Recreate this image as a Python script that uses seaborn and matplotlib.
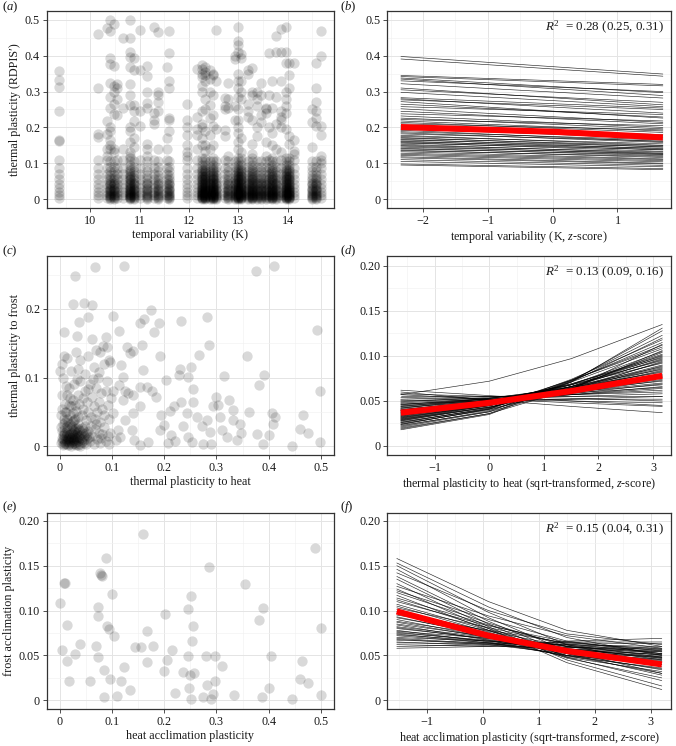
import numpy as np
import pandas as pd
import matplotlib
matplotlib.use("Agg")
import matplotlib.pyplot as plt
import seaborn as sns

sns.set_theme(style="white")
plt.rcParams["font.family"] = ["Liberation Serif", "DejaVu Serif"]
plt.rcParams["mathtext.fontset"] = "custom"
plt.rcParams["mathtext.rm"] = "Liberation Serif"
plt.rcParams["mathtext.it"] = "Liberation Serif:italic"

# ---------------- panel (a): scatter, columns of sites ----------------
a_x = [9.37, 10.15, 10.34, 10.39, 10.47, 10.53, 10.66, 10.81, 10.88, 11.0, 11.15, 11.28, 11.37,
       11.55, 11.6, 11.96, 12.16, 12.26, 12.33, 12.42, 12.48, 12.55, 12.72, 12.8, 12.93, 12.99,
       13.06, 13.2, 13.28, 13.38, 13.46, 13.56, 13.62, 13.68, 13.76, 13.87, 13.96, 14.03, 14.12,
       14.5, 14.57, 14.68]
a_density = "M M M D D M M V D M D M D M D M M V V D V D M D D V V D V D D D M V D M V V M D D M".split()
a_high = [
    "0.358 0.333 0.312 0.245 0.166 0.162", "0.462 0.31 0.182 0.172", "0.477 0.218 0.182 0.14 0.12",
    "0.5 0.47 0.395 0.378 0.325 0.285 0.255 0.2 0.19 0.165 0.15 0.14",
    "0.49 0.372 0.317 0.298 0.265 0.237 0.14 0.13", "0.32 0.31 0.28 0.235", "0.45 0.255 0.14",
    "0.5 0.45 0.41 0.397 0.37 0.32 0.29 0.262 0.2 0.19 0.16 0.13 0.12",
    "0.395 0.36 0.262 0.245 0.218 0.17 0.145", "0.473 0.36 0.245 0.205",
    "0.372 0.344 0.298 0.268 0.255 0.155 0.14 0.12", "0.48 0.24 0.22 0.21",
    "0.465 0.3 0.29 0.27 0.245 0.14", "0.37 0.17 0.14", "0.47 0.408 0.33 0.31 0.225 0.22 0.19",
    "0.265 0.22 0.2 0.18 0.15 0.13 0.12", "0.363 0.23 0.195 0.18 0.14",
    "0.375 0.362 0.35 0.34 0.316 0.3 0.245 0.21 0.2 0.17 0.15",
    "0.37 0.355 0.345 0.33 0.28 0.25 0.19 0.15 0.135", "0.36 0.335 0.3 0.262 0.225 0.18 0.14",
    "0.345 0.35 0.29 0.235 0.205 0.15", "0.472 0.33 0.195", "0.283 0.26 0.25 0.193 0.175",
    "0.325 0.28 0.255 0.12", "0.4 0.39 0.26 0.22",
    "0.48 0.44 0.43 0.41 0.35 0.33 0.31 0.285 0.25 0.22 0.2 0.185 0.16 0.14",
    "0.405 0.395 0.33 0.3 0.28 0.17 0.13", "0.36 0.35 0.265 0.245 0.23",
    "0.365 0.3 0.29 0.22 0.155 0.125", "0.3 0.28 0.26 0.2 0.175", "0.325 0.29 0.235 0.215",
    "0.255 0.25 0.24 0.16 0.12", "0.407 0.29 0.2", "0.33 0.255 0.185 0.15",
    "0.455 0.41 0.285 0.21 0.14", "0.475 0.41 0.33 0.245 0.23 0.22 0.2 0.13",
    "0.48 0.41 0.38 0.3 0.28 0.26 0.24 0.195", "0.38 0.345 0.31 0.175 0.155",
    "0.38 0.165 0.135 0.125", "0.25 0.215 0.145", "0.38 0.31 0.27 0.245 0.225 0.205",
    "0.47 0.4 0.205 0.18 0.12 0.1"]
a_low = {
    "V": "0 0.002 0.003 0.005 0.007 0.009 0.01 0.012 0.014 0.015 0.017 0.02 0.021 0.023 0.026 0.028 "
         "0.029 0.032 0.035 0.036 0.039 0.043 0.045 0.047 0.052 0.055 0.057 0.062 0.065 0.068 0.074 "
         "0.077 0.08 0.087 0.095 0.105 0.115",
    "D": "0 0.004 0.006 0.008 0.012 0.015 0.017 0.022 0.025 0.027 0.032 0.038 0.042 0.045 0.052 0.06 "
         "0.068 0.078 0.09 0.105",
    "M": "0.002 0.01 0.02 0.03 0.042 0.055 0.07 0.088 0.11",
}

# ---------------- panel (b): posterior lines ----------------
b_x = [-2.34, 1.70]
b_start = [0.398, 0.391, 0.345, 0.342, 0.338, 0.335, 0.330, 0.322, 0.310, 0.305, 0.298, 0.283, 0.280,
           0.277, 0.272, 0.265, 0.258, 0.252, 0.245, 0.238, 0.232, 0.226, 0.222, 0.218, 0.214, 0.210,
           0.206, 0.202, 0.198, 0.195, 0.192, 0.188, 0.185, 0.182, 0.178, 0.175, 0.172, 0.170, 0.167,
           0.165, 0.162, 0.160, 0.158, 0.156, 0.153, 0.150, 0.148, 0.145, 0.142, 0.140, 0.137, 0.135,
           0.132, 0.128, 0.125, 0.122, 0.118, 0.115, 0.110, 0.105, 0.098, 0.095]
b_end = [0.349, 0.343, 0.320, 0.316, 0.297, 0.289, 0.300, 0.282, 0.263, 0.270, 0.258, 0.254, 0.240,
         0.250, 0.226, 0.229, 0.236, 0.214, 0.210, 0.218, 0.200, 0.196, 0.205, 0.190, 0.186, 0.193,
         0.176, 0.180, 0.168, 0.172, 0.160, 0.165, 0.158, 0.162, 0.150, 0.154, 0.145, 0.149, 0.140,
         0.146, 0.137, 0.142, 0.133, 0.138, 0.128, 0.131, 0.125, 0.127, 0.121, 0.124, 0.116, 0.119,
         0.112, 0.110, 0.107, 0.104, 0.100, 0.098, 0.094, 0.090, 0.085, 0.082]
b_red_x = [-2.34, 0.0, 1.70]
b_red_y = [0.201, 0.188, 0.172]

# ---------------- panel (c): heat vs frost plasticity ----------------
c_pts = """
0.068 0.261; 0.124 0.263; 0.030 0.248; 0.376 0.256; 0.411 0.262; 0.025 0.207; 0.046 0.208; 0.063 0.206;
0.103 0.190; 0.038 0.181; 0.055 0.188; 0.175 0.199; 0.008 0.167; 0.033 0.160; 0.062 0.156; 0.088 0.159;
0.113 0.168; 0.154 0.180; 0.161 0.185; 0.180 0.167; 0.190 0.179; 0.232 0.183; 0.282 0.188; 0.286 0.148;
0.493 0.169; 0.358 0.131; 0.008 0.131; 0.014 0.128; 0.032 0.138; 0.055 0.132; 0.078 0.138; 0.084 0.146;
0.096 0.123; 0.117 0.118; 0.129 0.144; 0.134 0.136; 0.141 0.139; 0.157 0.148; 0.192 0.131; 0.266 0.133;
0.315 0.103; 0.391 0.104; 0.381 0.089; 0.499 0.081;
0.203 0.097; 0.230 0.112; 0.228 0.104; 0.246 0.101; 0.252 0.116; 0.256 0.083; 0.211 0.051; 0.218 0.058;
0.192 0.024; 0.208 0.005; 0.214 0.017; 0.221 0.008; 0.233 0.064; 0.236 0.029; 0.243 0.048; 0.253 0.006;
0.246 0.014; 0.255 0.065; 0.263 0.043; 0.272 0.029; 0.275 0.004; 0.283 0.038; 0.287 0.021; 0.290 0.003;
0.294 0.058; 0.299 0.072; 0.304 0.060; 0.307 0.043; 0.310 0.024; 0.320 0.014; 0.324 0.068; 0.331 0.053;
0.332 0.038; 0.339 0.009; 0.346 0.032; 0.348 0.019; 0.362 0.050; 0.377 0.018; 0.390 0.003; 0.401 0.016;
0.407 0.049; 0.409 0.033; 0.413 0.043; 0.445 0.001; 0.460 0.025; 0.465 0.046; 0.476 0.019; 0.499 0.006;
0.199 0.031; 0.195 0.046;
0.167 0.087; 0.176 0.080; 0.184 0.072; 0.160 0.111; 0.153 0.087; 0.154 0.058; 0.141 0.075; 0.130 0.077;
0.141 0.048; 0.138 0.024; 0.143 0.009; 0.154 0.002; 0.170 0.006; 0.125 0.038; 0.122 0.067; 0.125 0.080;
0.121 0.101; 0.113 0.089; 0.111 0.024; 0.108 0.009; 0.116 0.014; 0.097 0.019; 0.103 0.048; 0.103 0.080;
0.002 0.005; 0.004 0.012; 0.006 0.002; 0.008 0.020; 0.010 0.008; 0.012 0.015; 0.013 0.003; 0.015 0.025;
0.016 0.010; 0.018 0.006; 0.020 0.018; 0.021 0.001; 0.022 0.012; 0.024 0.030; 0.025 0.007; 0.027 0.022;
0.028 0.014; 0.030 0.004; 0.031 0.027; 0.033 0.010; 0.034 0.018; 0.036 0.002; 0.038 0.024; 0.040 0.012;
0.042 0.006; 0.044 0.020; 0.046 0.015; 0.048 0.030; 0.050 0.004; 0.052 0.011; 0.055 0.022; 0.058 0.008;
0.003 0.028; 0.007 0.033; 0.011 0.026; 0.017 0.035; 0.019 0.003; 0.023 0.020; 0.026 0.010; 0.029 0.016;
0.032 0.006; 0.035 0.032; 0.037 0.013; 0.039 0.001; 0.043 0.027; 0.047 0.009; 0.053 0.017; 0.009 0.004;
0.014 0.018; 0.020 0.009; 0.025 0.024; 0.030 0.012; 0.018 0.014; 0.012 0.010; 0.027 0.005; 0.033 0.021;
0.041 0.017; 0.022 0.026; 0.016 0.002; 0.006 0.016;
0.004 0.008; 0.007 0.011; 0.011 0.005; 0.014 0.007; 0.017 0.012; 0.019 0.016; 0.021 0.006; 0.023 0.014;
0.026 0.018; 0.028 0.009; 0.031 0.002; 0.034 0.013; 0.036 0.008; 0.038 0.017; 0.040 0.004; 0.043 0.011;
0.045 0.023; 0.009 0.017; 0.013 0.021; 0.024 0.004; 0.029 0.025; 0.035 0.026; 0.015 0.030; 0.010 0.036;
0.020 0.032; 0.027 0.038; 0.005 0.022; 0.046 0.005; 0.050 0.020; 0.057 0.014;
0.002 0.045; 0.005 0.055; 0.008 0.040; 0.010 0.062; 0.012 0.050; 0.015 0.075; 0.018 0.085; 0.020 0.045;
0.022 0.058; 0.025 0.068; 0.028 0.090; 0.030 0.040; 0.032 0.052; 0.035 0.075; 0.038 0.062; 0.040 0.095;
0.042 0.045; 0.045 0.055; 0.048 0.080; 0.050 0.038; 0.052 0.065; 0.055 0.050; 0.058 0.090; 0.060 0.042;
0.062 0.072; 0.065 0.058; 0.068 0.040; 0.070 0.085; 0.072 0.050; 0.075 0.065; 0.078 0.035; 0.080 0.078;
0.082 0.055; 0.085 0.045; 0.088 0.080; 0.090 0.095; 0.092 0.060; 0.095 0.040; 0.098 0.070; 0.006 0.100;
0.012 0.088; 0.018 0.060; 0.026 0.048; 0.034 0.098; 0.044 0.070; 0.054 0.083; 0.064 0.098; 0.074 0.100;
0.010 0.050; 0.020 0.070; 0.030 0.060; 0.015 0.040; 0.025 0.037; 0.005 0.075; 0.035 0.042;
0.062 0.015; 0.065 0.003; 0.068 0.025; 0.072 0.010; 0.075 0.020; 0.078 0.005; 0.082 0.018; 0.085 0.028;
0.088 0.008; 0.092 0.015; 0.095 0.003; 0.060 0.030; 0.070 0.032; 0.080 0.012;
0.000 0.110; 0.005 0.120; 0.022 0.110; 0.035 0.112; 0.040 0.125; 0.048 0.105; 0.065 0.115; 0.070 0.140;
0.075 0.108; 0.085 0.120; 0.090 0.145; 0.095 0.125
"""
c_heat = [float(p.split()[0]) for p in c_pts.split(";") if p.strip()]
c_frost = [float(p.split()[1]) for p in c_pts.split(";") if p.strip()]

# ---------------- panel (d) ----------------
d_x = [-1.62, 0.0, 1.5, 3.17]
d_start = [0.062, 0.060, 0.058, 0.057, 0.055, 0.054, 0.052, 0.051, 0.050, 0.049, 0.048, 0.047, 0.046,
           0.046, 0.045, 0.044, 0.044, 0.043, 0.042, 0.042, 0.041, 0.040, 0.040, 0.039, 0.039, 0.038,
           0.037, 0.037, 0.036, 0.036, 0.035, 0.035, 0.034, 0.034, 0.033, 0.033, 0.032, 0.032, 0.031,
           0.031, 0.030, 0.030, 0.029, 0.029, 0.028, 0.028, 0.027, 0.026, 0.026, 0.025, 0.024, 0.024,
           0.023, 0.022, 0.021, 0.020, 0.019, 0.018, 0.057]
d_at0 = [0.056, 0.051, 0.055, 0.052, 0.055, 0.052, 0.055, 0.051, 0.053, 0.054, 0.052, 0.050, 0.052,
         0.053, 0.051, 0.051, 0.053, 0.050, 0.051, 0.053, 0.049, 0.050, 0.051, 0.048, 0.050, 0.050,
         0.047, 0.050, 0.048, 0.050, 0.046, 0.047, 0.048, 0.046, 0.046, 0.048, 0.045, 0.046, 0.045,
         0.046, 0.043, 0.045, 0.045, 0.043, 0.044, 0.043, 0.041, 0.042, 0.042, 0.040, 0.041, 0.041,
         0.038, 0.039, 0.038, 0.036, 0.036, 0.035, 0.072]
d_at15 = [0.050, 0.044, 0.053, 0.048, 0.055, 0.050, 0.057, 0.052, 0.055, 0.059, 0.057, 0.052, 0.060,
          0.062, 0.057, 0.060, 0.064, 0.057, 0.061, 0.065, 0.058, 0.061, 0.066, 0.059, 0.063, 0.066,
          0.060, 0.068, 0.063, 0.068, 0.060, 0.064, 0.069, 0.062, 0.064, 0.069, 0.062, 0.066, 0.064,
          0.068, 0.062, 0.066, 0.068, 0.065, 0.073, 0.066, 0.062, 0.071, 0.073, 0.064, 0.072, 0.074,
          0.063, 0.071, 0.073, 0.063, 0.072, 0.071, 0.097]
d_end = [0.045, 0.037, 0.050, 0.044, 0.055, 0.048, 0.060, 0.052, 0.058, 0.065, 0.062, 0.055, 0.068,
         0.072, 0.064, 0.070, 0.078, 0.066, 0.074, 0.082, 0.069, 0.076, 0.085, 0.073, 0.080, 0.088,
         0.077, 0.092, 0.083, 0.095, 0.079, 0.087, 0.098, 0.084, 0.090, 0.100, 0.086, 0.096, 0.093,
         0.102, 0.089, 0.099, 0.105, 0.097, 0.110, 0.101, 0.094, 0.108, 0.112, 0.104, 0.115, 0.118,
         0.106, 0.120, 0.123, 0.113, 0.128, 0.131, 0.135]
d_red_x = [-1.62, 0.0, 1.5, 3.17]
d_red_y = [0.037, 0.048, 0.061, 0.078]

# ---------------- panel (e) ----------------
e_heat = [0.0, 0.008, 0.010, 0.005, 0.014, 0.015, 0.018, 0.030, 0.039, 0.058, 0.070, 0.073, 0.074,
          0.074, 0.078, 0.080, 0.082, 0.085, 0.085, 0.088, 0.090, 0.095, 0.097, 0.100, 0.105, 0.110,
          0.117, 0.123, 0.135, 0.145, 0.155, 0.160, 0.168, 0.168, 0.178, 0.200, 0.202, 0.206, 0.215,
          0.220, 0.237, 0.245, 0.246, 0.248, 0.249, 0.252, 0.252, 0.254, 0.256, 0.258, 0.274, 0.280,
          0.282, 0.286, 0.290, 0.293, 0.298, 0.298, 0.310, 0.333, 0.355, 0.381, 0.388, 0.390, 0.400,
          0.405, 0.445, 0.460, 0.463, 0.475, 0.488, 0.500, 0.500]
e_frost = [0.108, 0.131, 0.131, 0.056, 0.084, 0.044, 0.021, 0.052, 0.063, 0.021, 0.060, 0.104, 0.094,
           0.048, 0.142, 0.140, 0.138, 0.004, 0.034, 0.159, 0.083, 0.080, 0.024, 0.118, 0.072, 0.005,
           0.021, 0.037, 0.011, 0.059, 0.059, 0.185, 0.077, 0.043, 0.061, 0.033, 0.096, 0.045, 0.056,
           0.008, 0.031, 0.102, 0.049, 0.014, 0.028, 0.116, 0.002, 0.066, 0.083, 0.030, 0.004, 0.049,
           0.017, 0.148, 0.002, 0.007, 0.021, 0.049, 0.038, 0.006, 0.130, 0.090, 0.004, 0.103, 0.014,
           0.049, 0.001, 0.024, 0.044, 0.019, 0.170, 0.081, 0.006]

# ---------------- panel (f) ----------------
f_x = [-1.54, 0.1, 1.5, 3.20]
f_start = [0.158, 0.153, 0.150, 0.146, 0.142, 0.138, 0.135, 0.130, 0.127, 0.124, 0.122, 0.120, 0.117,
           0.114, 0.112, 0.110, 0.107, 0.105, 0.103, 0.101, 0.099, 0.097, 0.095, 0.093, 0.092, 0.090,
           0.088, 0.087, 0.085, 0.084, 0.082, 0.081, 0.080, 0.078, 0.077, 0.076, 0.075, 0.074, 0.073,
           0.072, 0.070, 0.069, 0.068, 0.067, 0.065, 0.064, 0.062, 0.060, 0.058]
f_at01 = [0.110, 0.104, 0.098, 0.092, 0.100, 0.088, 0.085, 0.082, 0.094, 0.080, 0.090, 0.086, 0.078,
          0.084, 0.080, 0.083, 0.078, 0.076, 0.081, 0.075, 0.077, 0.073, 0.078, 0.072, 0.074, 0.070,
          0.073, 0.070, 0.071, 0.067, 0.070, 0.068, 0.069, 0.065, 0.069, 0.066, 0.067, 0.064, 0.066,
          0.064, 0.066, 0.063, 0.062, 0.064, 0.061, 0.063, 0.060, 0.062, 0.060]
f_at15 = [0.078, 0.070, 0.062, 0.055, 0.074, 0.052, 0.048, 0.045, 0.072, 0.042, 0.066, 0.060, 0.047,
          0.062, 0.055, 0.065, 0.052, 0.050, 0.063, 0.055, 0.060, 0.050, 0.064, 0.054, 0.058, 0.048,
          0.060, 0.054, 0.057, 0.049, 0.060, 0.053, 0.056, 0.050, 0.061, 0.055, 0.057, 0.050, 0.059,
          0.054, 0.062, 0.056, 0.052, 0.062, 0.057, 0.064, 0.059, 0.065, 0.066]
f_end = [0.060, 0.050, 0.040, 0.030, 0.062, 0.028, 0.022, 0.016, 0.058, 0.012, 0.052, 0.045, 0.025,
         0.048, 0.038, 0.055, 0.034, 0.030, 0.052, 0.042, 0.050, 0.035, 0.057, 0.043, 0.047, 0.032,
         0.052, 0.044, 0.048, 0.036, 0.054, 0.045, 0.049, 0.040, 0.056, 0.047, 0.051, 0.042, 0.055,
         0.048, 0.058, 0.051, 0.046, 0.060, 0.054, 0.063, 0.057, 0.065, 0.069]
f_red_x = [-1.54, 0.1, 1.5, 3.20]
f_red_y = [0.099, 0.072, 0.055, 0.040]

r2_texts = ["0.28 (0.25, 0.31)", "0.13 (0.09, 0.16)", "0.15 (0.04, 0.31)"]

# ---------------- build tables ----------------
ax_list, ay_list = [], []
for x, dens, hi in zip(a_x, a_density, a_high):
    for v in hi.split() + a_low[dens].split():
        ax_list.append(x)
        ay_list.append(float(v))
df_a = pd.DataFrame({"x": ax_list, "y": ay_list})


def lines_table(xs, *cols):
    rows = []
    for i, vals in enumerate(zip(*cols)):
        for x, v in zip(xs, vals):
            rows.append((i, x, v))
    return pd.DataFrame(rows, columns=["id", "x", "y"])


df_b = lines_table(b_x, b_start, b_end)
df_d = lines_table(d_x, d_start, d_at0, d_at15, d_end)
df_f = lines_table(f_x, f_start, f_at01, f_at15, f_end)

# ---------------- figure ----------------
W, H = 676, 746
fig = plt.figure(figsize=(W / 100, H / 100), dpi=100)


def make_ax(left, right, top, bottom):
    return fig.add_axes([left / W, 1 - bottom / H, (right - left) / W, (bottom - top) / H])


TXT = "#1a1a1a"
FS = 8.7


def style(ax, xlim, ylim, xt, xtl, yt, ytl, xmin, ymin, xlabel, ylabel=None):
    ax.set_xlim(*xlim)
    ax.set_ylim(*ylim)
    ax.set_xticks(xt)
    ax.set_xticklabels(xtl)
    ax.set_yticks(yt)
    ax.set_yticklabels(ytl)
    ax.set_xticks(xmin, minor=True)
    ax.set_yticks(ymin, minor=True)
    ax.grid(which="major", color="#e4e4e4", lw=0.7)
    ax.grid(which="minor", color="#f1f1f1", lw=0.45)
    ax.set_axisbelow(True)
    for s in ax.spines.values():
        s.set_color("#333333")
        s.set_linewidth(0.9)
    ax.tick_params(which="major", length=2.8, width=0.6, color="#333333", labelsize=FS,
                   labelcolor=TXT, pad=2.2, direction="out", bottom=True, left=True)
    ax.tick_params(which="minor", length=0)
    ax.set_xlabel(xlabel, fontsize=FS, color=TXT, labelpad=1.2)
    ax.set_ylabel(ylabel if ylabel else "", fontsize=FS, color=TXT, labelpad=3)


def panel_label(px, py, letter):
    fig.text(px / W, 1 - py / H, "($%s$)" % letter, fontsize=FS + 0.4, color=TXT,
             ha="left", va="center")


def r2(ax, txt):
    ax.text(0.972, 0.915, r"$R^2$  = " + txt, transform=ax.transAxes, ha="right", va="center",
            fontsize=FS + 0.7, color=TXT)


pt = dict(s=55, color="black", alpha=0.15, linewidth=0, legend=False)
gl = dict(units="id", estimator=None, color="black", lw=0.45, alpha=0.85, legend=False)
rl = dict(color="#ff0000", lw=4.4, legend=False, solid_capstyle="butt")

# (a)
ax = make_ax(47, 334, 11, 208)
sns.scatterplot(data=df_a, x="x", y="y", ax=ax, **pt)
style(ax, (9.12, 14.94), (-0.025, 0.525), [10, 11, 12, 13, 14], ["10", "11", "12", "13", "14"],
      [0, 0.1, 0.2, 0.3, 0.4, 0.5], ["0", "0.1", "0.2", "0.3", "0.4", "0.5"],
      [9.5, 10.5, 11.5, 12.5, 13.5, 14.5], [0.05, 0.15, 0.25, 0.35, 0.45],
      "temporal variability (K)", "thermal plasticity (RDPIS\u2032)")
panel_label(2, 7.5, "a")

# (b)
ax = make_ax(387.3, 671.3, 11, 208)
sns.lineplot(data=df_b, x="x", y="y", ax=ax, **gl)
sns.lineplot(x=b_red_x, y=b_red_y, ax=ax, **rl)
style(ax, (-2.55, 1.83), (-0.025, 0.525), [-2, -1, 0, 1], ["\u22122", "\u22121", "0", "1"],
      [0, 0.1, 0.2, 0.3, 0.4, 0.5], ["0", "0.1", "0.2", "0.3", "0.4", "0.5"],
      [-2.5, -1.5, -0.5, 0.5, 1.5], [0.05, 0.15, 0.25, 0.35, 0.45],
      "temporal variability (K, $z$-score)")
r2(ax, r2_texts[0])
panel_label(340, 7.5, "b")

# (c)
ax = make_ax(47, 334, 255.7, 455)
sns.scatterplot(x=c_heat, y=c_frost, ax=ax, **pt)
style(ax, (-0.024, 0.525), (-0.0127, 0.2776), [0, 0.1, 0.2, 0.3, 0.4, 0.5],
      ["0", "0.1", "0.2", "0.3", "0.4", "0.5"], [0, 0.1, 0.2], ["0", "0.1", "0.2"],
      [0.05, 0.15, 0.25, 0.35, 0.45], [0.05, 0.15, 0.25],
      "thermal plasticity to heat", "thermal plasticity to frost")
panel_label(2, 251, "c")

# (d)
ax = make_ax(387.3, 671.3, 255.7, 455)
sns.lineplot(data=df_d, x="x", y="y", ax=ax, **gl)
sns.lineplot(x=d_red_x, y=d_red_y, ax=ax, **rl)
style(ax, (-1.868, 3.335), (-0.010, 0.2114), [-1, 0, 1, 2, 3], ["\u22121", "0", "1", "2", "3"],
      [0, 0.05, 0.10, 0.15, 0.20], ["0", "0.05", "0.10", "0.15", "0.20"],
      [-1.5, -0.5, 0.5, 1.5, 2.5], [0.025, 0.075, 0.125, 0.175],
      "thermal plasticity to heat (sqrt-transformed, $z$-score)")
r2(ax, r2_texts[1])
panel_label(340, 251, "d")

# (e)
ax = make_ax(47, 334, 512.7, 709.3)
sns.scatterplot(x=e_heat, y=e_frost, ax=ax, **pt)
style(ax, (-0.024, 0.525), (-0.010, 0.209), [0, 0.1, 0.2, 0.3, 0.4, 0.5],
      ["0", "0.1", "0.2", "0.3", "0.4", "0.5"], [0, 0.05, 0.10, 0.15, 0.20],
      ["0", "0.05", "0.10", "0.15", "0.20"],
      [0.05, 0.15, 0.25, 0.35, 0.45], [0.025, 0.075, 0.125, 0.175],
      "heat acclimation plasticity", "frost acclimation plasticity")
panel_label(2, 507, "e")

# (f)
ax = make_ax(387.3, 671.3, 512.7, 709.3)
sns.lineplot(data=df_f, x="x", y="y", ax=ax, **gl)
sns.lineplot(x=f_red_x, y=f_red_y, ax=ax, **rl)
style(ax, (-1.71, 3.37), (-0.010, 0.209), [-1, 0, 1, 2, 3], ["\u22121", "0", "1", "2", "3"],
      [0, 0.05, 0.10, 0.15, 0.20], ["0", "0.05", "0.10", "0.15", "0.20"],
      [-1.5, -0.5, 0.5, 1.5, 2.5], [0.025, 0.075, 0.125, 0.175],
      "heat acclimation plasticity (sqrt-transformed, $z$-score)")
r2(ax, r2_texts[2])
panel_label(340, 507, "f")

fig.savefig("out.png", dpi=100)
